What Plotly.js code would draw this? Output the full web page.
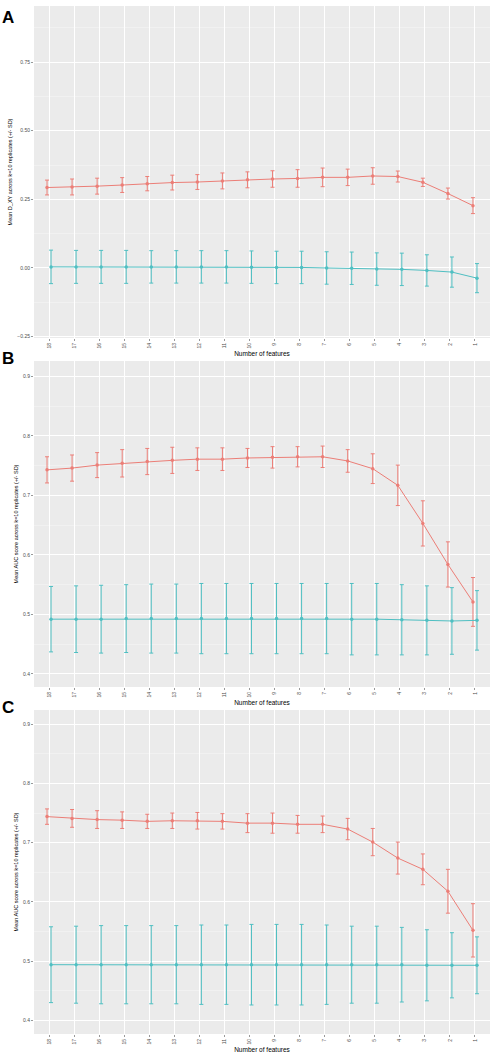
<!DOCTYPE html>
<html>
<head>
<meta charset="utf-8">
<script src="https://cdn.plot.ly/plotly-3.0.1.min.js"></script>
<style>html,body{margin:0;padding:0;background:#fff;}#chart{width:491px;height:1058px;}</style>
</head>
<body>
<div id="chart"></div>
<script>
// Number of features (left to right)
const features = [18,17,16,15,14,13,12,11,10,9,8,7,6,5,4,3,2,1];

// Panel A: Mean D_XY
const aRedMean = [0.293,0.295,0.298,0.302,0.307,0.311,0.313,0.317,0.321,0.324,0.326,0.330,0.330,0.335,0.333,0.312,0.271,0.227];
const aRedSD   = [0.027,0.029,0.029,0.027,0.026,0.027,0.027,0.029,0.029,0.030,0.032,0.034,0.030,0.030,0.020,0.015,0.020,0.029];
const aTealMean = [0.004,0.004,0.004,0.004,0.004,0.004,0.004,0.004,0.003,0.002,0.002,0.000,-0.001,-0.004,-0.005,-0.009,-0.015,-0.037];
const aTealSD   = [0.061,0.060,0.060,0.060,0.059,0.059,0.059,0.059,0.059,0.059,0.059,0.059,0.059,0.059,0.059,0.057,0.055,0.053];

// Panel B: Mean AUC
const bRedMean = [0.743,0.746,0.751,0.754,0.757,0.759,0.761,0.761,0.763,0.764,0.765,0.765,0.758,0.745,0.717,0.653,0.584,0.521];
const bRedSD   = [0.022,0.022,0.021,0.023,0.022,0.022,0.019,0.019,0.016,0.018,0.017,0.018,0.019,0.025,0.034,0.038,0.038,0.041];
const bTealMean = [0.492,0.492,0.492,0.493,0.493,0.493,0.493,0.493,0.493,0.493,0.493,0.493,0.492,0.492,0.491,0.490,0.489,0.490];
const bTealSD   = [0.055,0.056,0.057,0.057,0.058,0.058,0.059,0.059,0.059,0.059,0.059,0.059,0.060,0.060,0.059,0.058,0.056,0.050];

// Panel C: Mean AUC
const cRedMean = [0.744,0.741,0.739,0.738,0.736,0.737,0.737,0.736,0.733,0.733,0.731,0.731,0.723,0.701,0.674,0.655,0.618,0.552];
const cRedSD   = [0.013,0.015,0.015,0.014,0.012,0.013,0.014,0.013,0.016,0.017,0.015,0.014,0.018,0.023,0.027,0.026,0.037,0.045];
const cTealMean = [0.494,0.494,0.494,0.494,0.494,0.494,0.494,0.494,0.494,0.494,0.494,0.494,0.494,0.494,0.494,0.493,0.493,0.493];
const cTealSD   = [0.064,0.065,0.066,0.066,0.066,0.066,0.067,0.067,0.068,0.068,0.068,0.067,0.065,0.065,0.063,0.060,0.055,0.048];

const RED = '#EC7E77';
const TEAL = '#4FBFC2';
const FONT = 'Liberation Sans, Arial, sans-serif';
const idx = features.map((f, i) => i + 1);
const dodge = 0.08;

function traces(mean, sd, color, shift, xa, ya) {
  return {
    type: 'scatter', mode: 'lines+markers',
    x: idx.map(v => v + shift), y: mean,
    xaxis: xa, yaxis: ya,
    line: {color: color, width: 1},
    marker: {color: color, size: 3.5},
    error_y: {type: 'data', array: sd, visible: true, color: color, thickness: 1, width: 2},
    showlegend: false, hoverinfo: 'skip'
  };
}

const data = [
  traces(aRedMean, aRedSD, RED, -dodge, 'x', 'y'),
  traces(aTealMean, aTealSD, TEAL, dodge, 'x', 'y'),
  traces(bRedMean, bRedSD, RED, -dodge, 'x2', 'y2'),
  traces(bTealMean, bTealSD, TEAL, dodge, 'x2', 'y2'),
  traces(cRedMean, cRedSD, RED, -dodge, 'x3', 'y3'),
  traces(cTealMean, cTealSD, TEAL, dodge, 'x3', 'y3')
];

const H = 1058, W = 491;
const xDomain = [34 / W, 490 / W];
function xaxis(anchor) {
  return {
    domain: xDomain, anchor: anchor, range: [0.4, 18.6],
    tickmode: 'array', tickvals: idx, ticktext: features.map(String),
    tickangle: -90, tickfont: {size: 5, color: '#4D4D4D', family: FONT},
    ticks: 'outside', ticklen: 2, tickcolor: '#333', tickwidth: 0.5,
    showgrid: true, gridcolor: '#FFFFFF', gridwidth: 1,
    zeroline: false, showline: false, automargin: false,
    title: {text: 'Number of features', font: {size: 6.5, color: '#000', family: FONT}, standoff: 3}
  };
}
function yaxis(anchor, top, bottom, range, dtick, fmt, title) {
  return {
    domain: [1 - bottom / H, 1 - top / H], anchor: anchor, range: range,
    dtick: dtick, tick0: 0, tickformat: fmt,
    tickfont: {size: 5, color: '#4D4D4D', family: FONT},
    ticks: 'outside', ticklen: 2, tickcolor: '#333', tickwidth: 0.5,
    showgrid: true, gridcolor: '#FFFFFF', gridwidth: 1,
    minor: {dtick: dtick / 2, showgrid: true, gridcolor: '#F5F5F5', gridwidth: 0.6, ticks: ''},
    zeroline: false, showline: false, automargin: false,
    title: {text: title, font: {size: 5.5, color: '#000', family: FONT}, standoff: 4}
  };
}

const layout = {
  width: W, height: H,
  margin: {l: 0, r: 0, t: 0, b: 0},
  paper_bgcolor: '#FFFFFF', plot_bgcolor: '#EBEBEB',
  font: {family: FONT},
  showlegend: false,
  xaxis: xaxis('y'),
  xaxis2: xaxis('y2'),
  xaxis3: xaxis('y3'),
  yaxis: yaxis('x', 6, 338, [-0.255, 0.954], 0.25, '.2f', 'Mean D_XY across k=10 replicates (+/- SD)'),
  yaxis2: yaxis('x2', 361, 687, [0.378, 0.926], 0.1, '.1f', 'Mean AUC score across k=10 replicates (+/- SD)'),
  yaxis3: yaxis('x3', 710, 1034, [0.377, 0.924], 0.1, '.1f', 'Mean AUC score across k=10 replicates (+/- SD)'),
  annotations: [
    {text: '<b>A</b>', x: 0, y: 1 - 17 / H, xref: 'paper', yref: 'paper', xanchor: 'left', yanchor: 'middle', showarrow: false, font: {size: 17, color: '#000', family: FONT}},
    {text: '<b>B</b>', x: 0, y: 1 - 358 / H, xref: 'paper', yref: 'paper', xanchor: 'left', yanchor: 'middle', showarrow: false, font: {size: 17, color: '#000', family: FONT}},
    {text: '<b>C</b>', x: 0, y: 1 - 707 / H, xref: 'paper', yref: 'paper', xanchor: 'left', yanchor: 'middle', showarrow: false, font: {size: 17, color: '#000', family: FONT}}
  ]
};

Plotly.newPlot('chart', data, layout, {staticPlot: true, displayModeBar: false});
</script>
</body>
</html>
